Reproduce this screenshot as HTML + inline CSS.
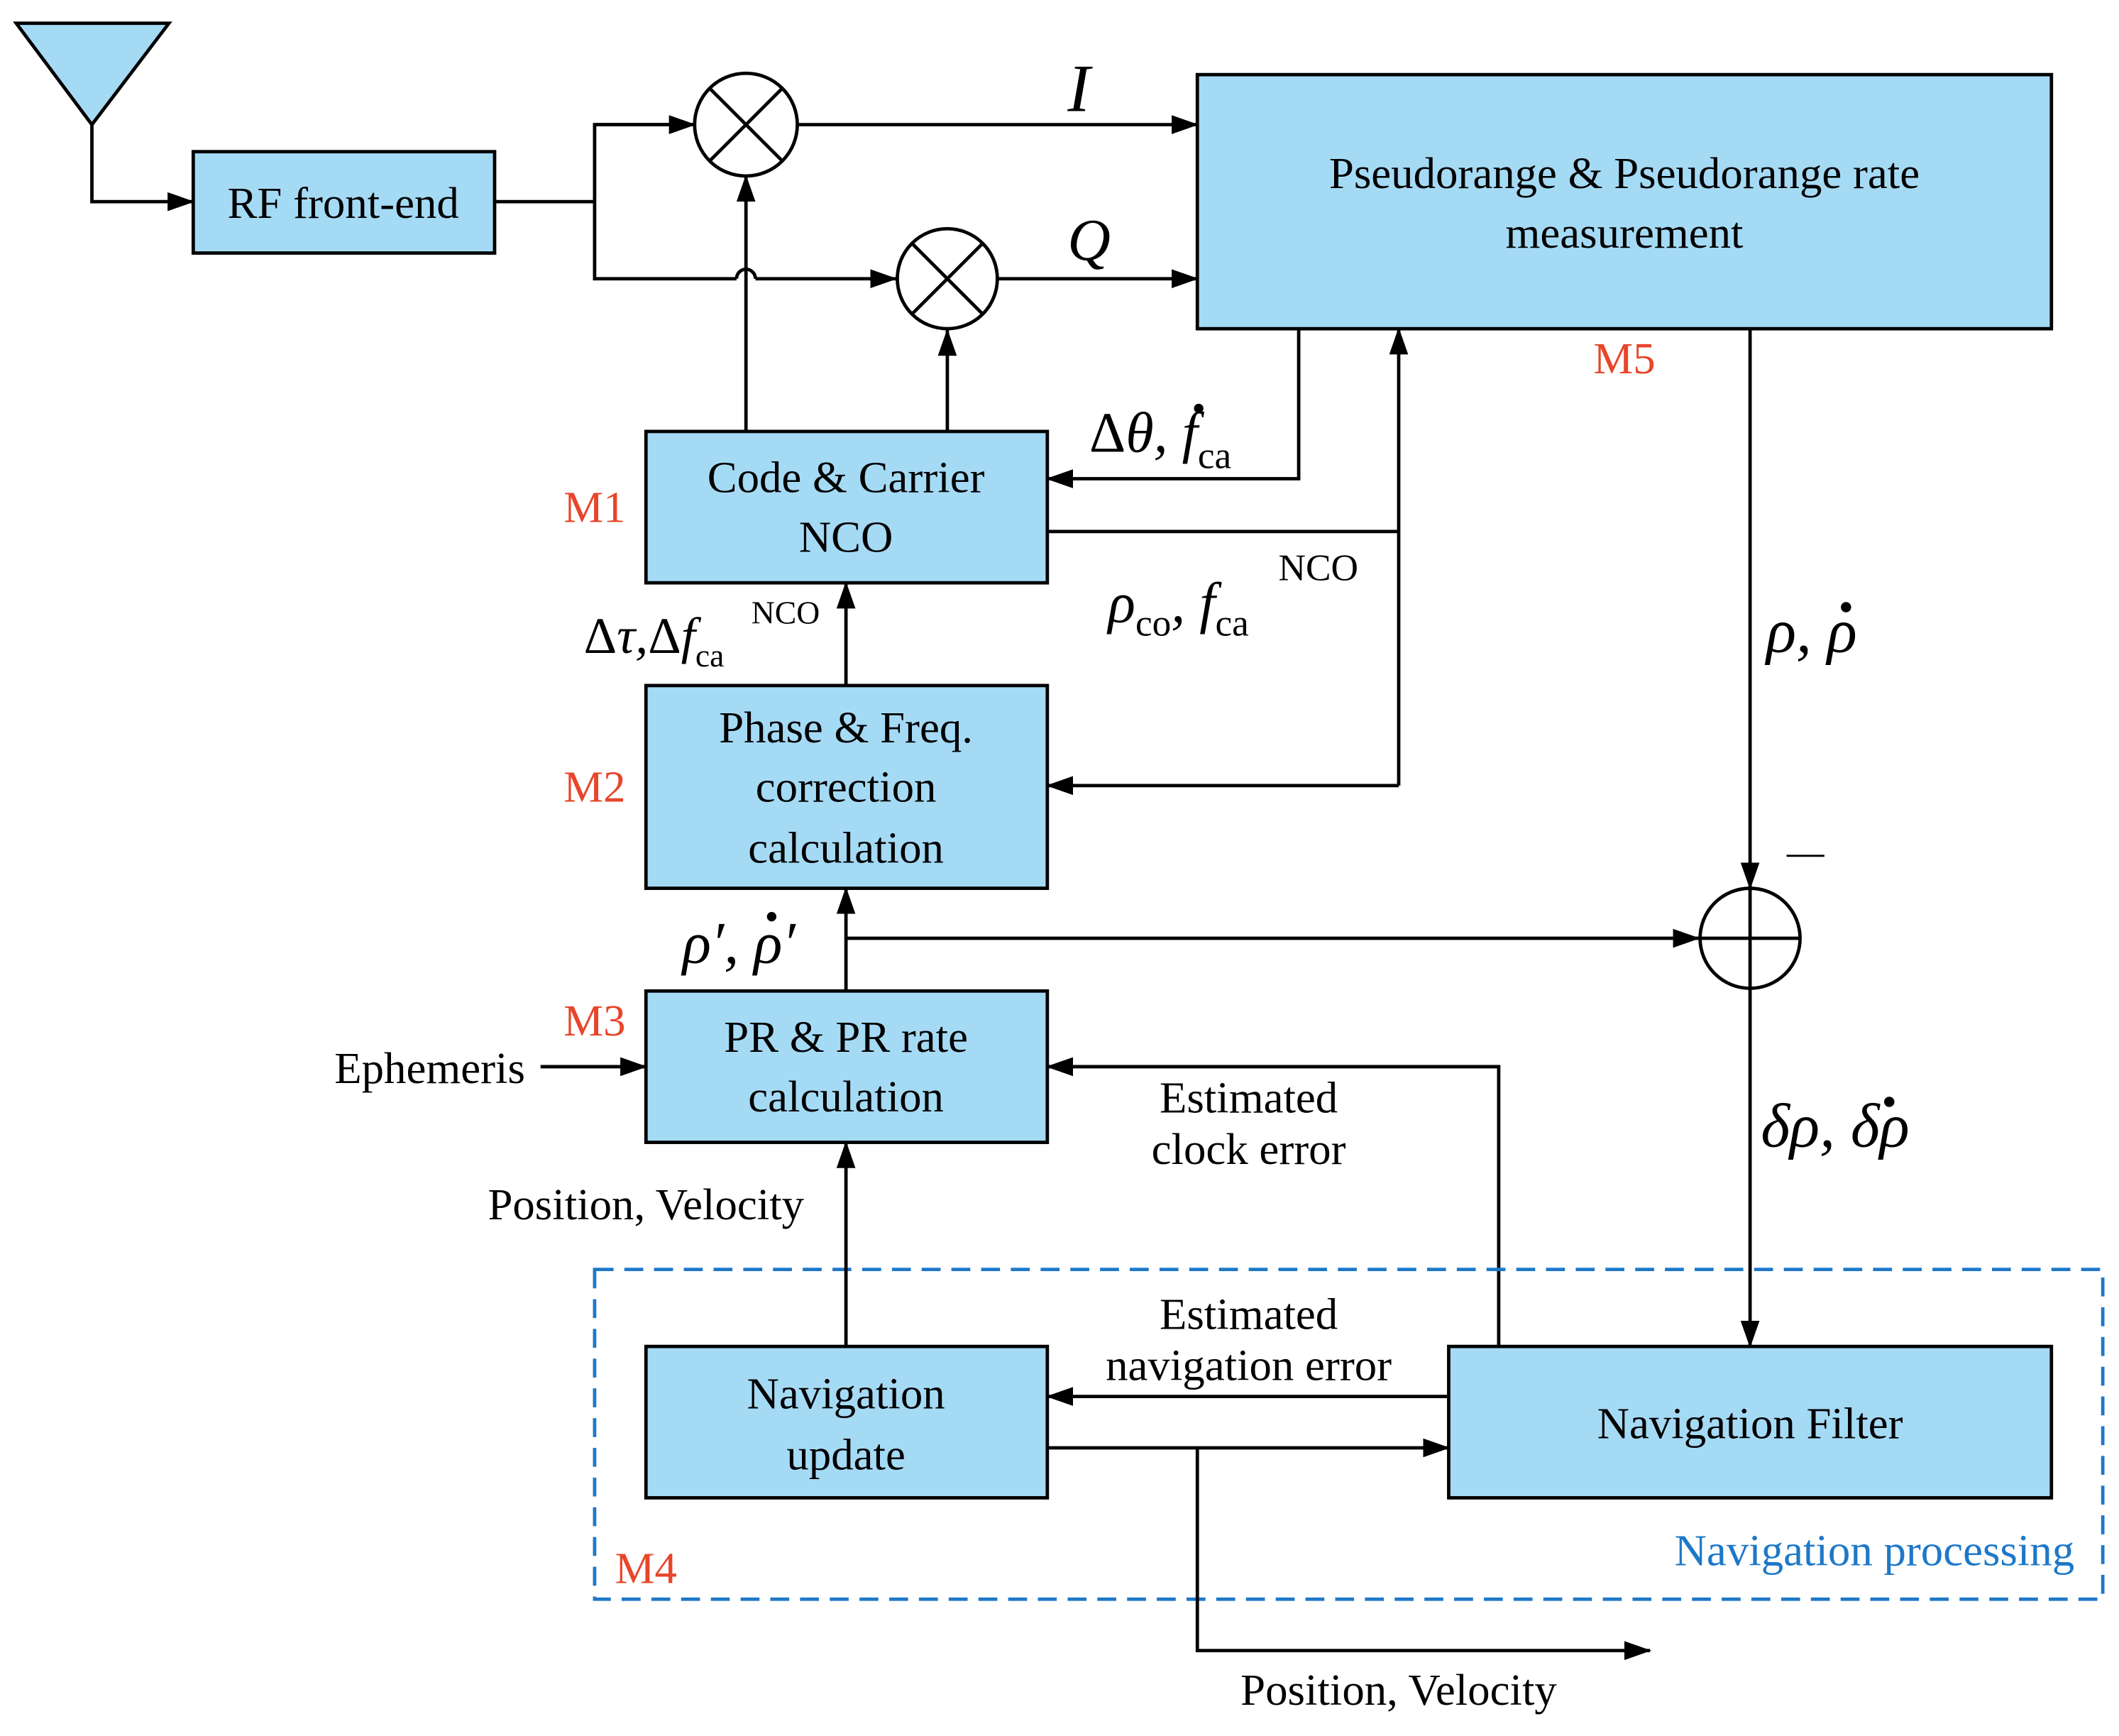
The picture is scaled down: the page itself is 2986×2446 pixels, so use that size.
<!DOCTYPE html>
<html><head><meta charset="utf-8"><style>html,body{margin:0;padding:0;background:#fff}svg{display:block}</style></head><body>
<svg width="2986" height="2446" viewBox="0 0 1568 1284" xmlns="http://www.w3.org/2000/svg" font-family="Liberation Serif, serif">
<defs><marker id="b" markerWidth="20" markerHeight="14" refX="19" refY="7" orient="auto" markerUnits="userSpaceOnUse"><path d="M0,0 L20,7 L0,14 z" fill="#000"/></marker></defs>
<g stroke="#000" stroke-width="2.5" fill="none">
<polygon points="12,17 125,17 68,92" fill="#a5daf5"/>
<polyline points="68,92 68,149 143,149" marker-end="url(#b)"/>
<rect x="143" y="112" width="223" height="75" fill="#a5daf5"/>
<polyline points="366,149 440,149"/>
<polyline points="514,92 440,92 440,206 545,206"/>
<path d="M545,206 A7,7 0 0 1 559,206" />
<line x1="559" y1="206" x2="663" y2="206" marker-end="url(#b)"/>
<line x1="440" y1="92" x2="514" y2="92" marker-end="url(#b)"/>
<circle cx="552" cy="92" r="38"/><line x1="525" y1="65" x2="579" y2="119"/><line x1="579" y1="65" x2="525" y2="119"/>
<circle cx="701" cy="206" r="37"/><line x1="675" y1="180" x2="727" y2="232"/><line x1="727" y1="180" x2="675" y2="232"/>
<line x1="590" y1="92" x2="886" y2="92" marker-end="url(#b)"/>
<line x1="738" y1="206" x2="886" y2="206" marker-end="url(#b)"/>
<rect x="886" y="55" width="632" height="188" fill="#a5daf5"/>
<rect x="478" y="319" width="297" height="112" fill="#a5daf5"/>
<line x1="552" y1="319" x2="552" y2="130" marker-end="url(#b)"/>
<line x1="701" y1="319" x2="701" y2="244" marker-end="url(#b)"/>
<polyline points="961,243 961,354 775,354" marker-end="url(#b)"/>
<polyline points="775,393 1035,393"/>
<line x1="1035" y1="581" x2="1035" y2="243" marker-end="url(#b)"/>
<line x1="1035" y1="581" x2="775" y2="581" marker-end="url(#b)"/>
<rect x="478" y="507" width="297" height="150" fill="#a5daf5"/>
<line x1="626" y1="507" x2="626" y2="431" marker-end="url(#b)"/>
<rect x="478" y="733" width="297" height="112" fill="#a5daf5"/>
<line x1="626" y1="733" x2="626" y2="657" marker-end="url(#b)"/>
<line x1="626" y1="694" x2="1257" y2="694" marker-end="url(#b)"/>
<circle cx="1295" cy="694" r="37"/><line x1="1258" y1="694" x2="1332" y2="694"/><line x1="1295" y1="657" x2="1295" y2="731"/>
<line x1="400" y1="789" x2="478" y2="789" marker-end="url(#b)"/>
<line x1="1295" y1="243" x2="1295" y2="657" marker-end="url(#b)"/>
<line x1="1295" y1="731" x2="1295" y2="996" marker-end="url(#b)"/>
<polyline points="1109,996 1109,789 775,789" marker-end="url(#b)"/>
<rect x="440" y="939" width="1116" height="244" stroke="#1e78c8" stroke-dasharray="14,8"/>
<rect x="478" y="996" width="297" height="112" fill="#a5daf5"/>
<line x1="626" y1="996" x2="626" y2="845" marker-end="url(#b)"/>
<rect x="1072" y="996" width="446" height="112" fill="#a5daf5"/>
<line x1="1072" y1="1033" x2="775" y2="1033" marker-end="url(#b)"/>
<line x1="775" y1="1071" x2="1072" y2="1071" marker-end="url(#b)"/>
<polyline points="886,1071 886,1221 1221,1221" marker-end="url(#b)"/>
<line x1="1322" y1="633" x2="1350" y2="633" stroke-width="1.5"/>
</g>
<g font-size="33" fill="#000" text-anchor="middle">
<text x="254" y="161">RF front-end</text>
<text x="1202" y="139">Pseudorange &amp; Pseudorange rate</text>
<text x="1202" y="183">measurement</text>
<text x="626" y="364">Code &amp; Carrier</text>
<text x="626" y="408">NCO</text>
<text x="626" y="549">Phase &amp; Freq.</text>
<text x="626" y="593">correction</text>
<text x="626" y="638">calculation</text>
<text x="626" y="778">PR &amp; PR rate</text>
<text x="626" y="822">calculation</text>
<text x="626" y="1042">Navigation</text>
<text x="626" y="1087">update</text>
<text x="1295" y="1064">Navigation Filter</text>
<text x="318" y="801">Ephemeris</text>
<text x="924" y="823">Estimated</text>
<text x="924" y="861">clock error</text>
<text x="924" y="983">Estimated</text>
<text x="924" y="1021">navigation error</text>
<text x="478" y="902">Position, Velocity</text>
<text x="1035" y="1261">Position, Velocity</text>
</g>
<g font-size="33" fill="#e8452a" text-anchor="middle">
<text x="440" y="386">M1</text><text x="440" y="593">M2</text><text x="440" y="766">M3</text>
<text x="478" y="1171">M4</text><text x="1202" y="276">M5</text>
</g>
<text x="1535" y="1158" font-size="33" fill="#1e78c8" text-anchor="end">Navigation processing</text>
<g font-style="italic" fill="#000">
<text x="790" y="82" font-size="50">I</text>
<text x="790" y="192" font-size="44">Q</text>
<text x="806" y="334" font-size="42"><tspan font-style="normal">Δ</tspan>θ, f<tspan font-size="28" font-style="normal" dy="12">ca</tspan></text>
<text x="820" y="460" font-size="42">ρ<tspan font-size="28" font-style="normal" dy="10">co</tspan><tspan dy="-10">, f</tspan><tspan font-size="28" font-style="normal" dy="10">ca</tspan></text>
<text x="946" y="429" font-size="28" font-style="normal">NCO</text>
<text x="432" y="483" font-size="38"><tspan font-style="normal">Δ</tspan>τ,<tspan font-style="normal">Δ</tspan>f<tspan font-size="24" font-style="normal" dy="10">ca</tspan></text>
<text x="556" y="461" font-size="24" font-style="normal">NCO</text>
<text x="505" y="712" font-size="44">ρ′, ρ′</text>
<text x="1307" y="482" font-size="46">ρ, ρ</text>
<text x="1303" y="848" font-size="46">δρ, δρ</text>
</g>
<g fill="#000">
<circle cx="887" cy="302" r="3.5"/>
<circle cx="571" cy="678" r="3.5"/>
<circle cx="1366" cy="449" r="3.8"/>
<circle cx="1398" cy="815" r="3.8"/>
</g>
</svg>
</body></html>
